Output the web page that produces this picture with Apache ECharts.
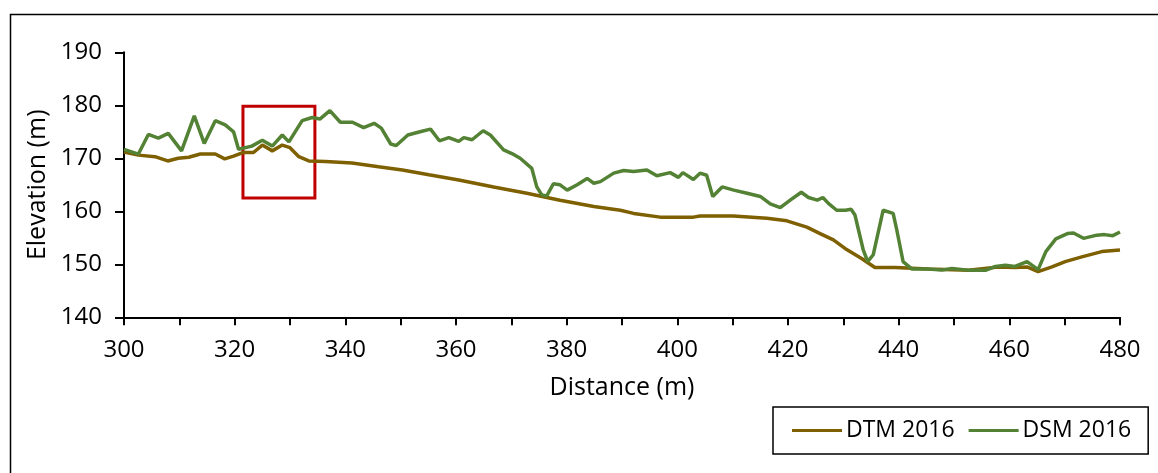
<!DOCTYPE html>
<html>
<head>
<meta charset="utf-8">
<script src="https://cdn.jsdelivr.net/npm/echarts@6/dist/echarts.min.js"></script>
<style>
  html, body { margin: 0; padding: 0; background: #fff; }
  #chart { width: 1158px; height: 473px; }
</style>
</head>
<body>
<div id="chart"></div>
<script>
// ---- Data ----
const seriesNames = ['DTM 2016', 'DSM 2016'];

const dtmX = [300, 302.6, 305.6, 307.9, 309.8, 311.7, 313.8, 316.5, 318.2, 319.8,
  321.6, 323.4, 325, 326.8, 328.6, 330, 331.6, 333.4, 336.4, 341.2,
  346, 350.3, 355.1, 360.5, 366.8, 372.8, 378.8, 384.9, 389.7, 392.1,
  396.9, 402.9, 404.1, 410.1, 416.2, 419.8, 423.4, 425.8, 428.2, 430.3,
  433.3, 435.7, 439.4, 445.4, 452.6, 458, 461, 463.2, 465.2, 467.7,
  470.1, 473.1, 476.7, 480];
const dtmY = [171.2, 170.6, 170.3, 169.5, 170, 170.2, 170.8, 170.8, 169.9, 170.4,
  171.1, 171.1, 172.5, 171.4, 172.5, 172, 170.3, 169.5, 169.4, 169.1,
  168.4, 167.8, 166.9, 165.9, 164.6, 163.4, 162.1, 160.9, 160.2, 159.6,
  158.9, 158.9, 159.1, 159.1, 158.7, 158.2, 157, 155.8, 154.6, 153,
  151.1, 149.4, 149.4, 149.1, 148.9, 149.5, 149.4, 149.5, 148.6, 149.5,
  150.5, 151.4, 152.4, 152.7];

const dsmX = [300, 302.6, 304.4, 306.2, 308, 310.4, 312.7, 314.5, 316.5, 318.3,
  319.8, 320.7, 323.1, 325, 326.8, 328.6, 329.8, 332.2, 334, 335.4,
  337.2, 339.1, 341.3, 343.3, 345.2, 346.5, 348.2, 349.2, 351.3, 353.5,
  355.4, 357, 358.7, 360.5, 361.4, 362.9, 364.9, 366.2, 368.6, 370.1,
  371.6, 373.7, 374.6, 375.5, 376.4, 377.6, 378.8, 380.1, 381.9, 383.7,
  384.9, 386.1, 388.5, 390.3, 392.1, 394.5, 396.3, 398.7, 400.2, 401,
  402.9, 404.1, 405.3, 406.4, 408.1, 410.2, 412.6, 415, 416.8, 418.6,
  420.4, 422.4, 423.7, 425.3, 426.3, 427.3, 428.8, 430.4, 431.4, 432.1,
  433.6, 434.4, 435.4, 437.2, 439, 439.6, 440.8, 442.4, 445.4, 447.8,
  449.6, 452.6, 455.8, 457.5, 459.3, 461, 463.2, 465.2, 466.6, 468.4,
  470.5, 471.6, 473.4, 475.8, 477.2, 478.7, 480];
const dsmY = [171.7, 170.8, 174.5, 173.8, 174.7, 171.4, 178, 172.8, 177.1, 176.3,
  175, 171.7, 172.3, 173.4, 172.3, 174.4, 173.1, 177.1, 177.7, 177.4,
  179, 176.8, 176.8, 175.8, 176.6, 175.7, 172.7, 172.4, 174.4, 175,
  175.5, 173.3, 173.9, 173.2, 173.9, 173.5, 175.2, 174.4, 171.6, 170.9,
  170, 168.1, 164.6, 163.1, 162.9, 165.2, 165, 164, 165, 166.2,
  165.3, 165.6, 167.2, 167.7, 167.5, 167.8, 166.7, 167.3, 166.4, 167.3,
  166, 167.2, 166.8, 162.8, 164.6, 164, 163.4, 162.8, 161.4, 160.7,
  162.1, 163.6, 162.6, 162.1, 162.6, 161.5, 160.2, 160.2, 160.4, 159.3,
  152.7, 150.5, 151.8, 160.2, 159.6, 156.8, 150.5, 149.1, 149.1, 148.9,
  149.2, 148.9, 148.9, 149.6, 149.8, 149.6, 150.5, 149, 152.4, 154.8,
  155.8, 155.9, 154.9, 155.5, 155.6, 155.4, 156.1];

// highlighted box: [xMin, xMax, yMin, yMax] in data units
const highlightBox = [321.5, 334.5, 162.5, 179.8];

const xTicks = { min: 300, max: 480, interval: 10, labelEvery: 20 };
const yTicks = { min: 140, max: 190, interval: 10 };

// ---- Chart ----
const zip = (xs, ys) => xs.map((x, i) => [x, ys[i]]);
const FONT = 'Open Sans';
const chart = echarts.init(document.getElementById('chart'), null, { renderer: 'canvas' });

chart.setOption({
  animation: false,
  backgroundColor: '#fff',
  textStyle: { fontFamily: FONT, color: '#000' },
  grid: { left: 124, right: 38, top: 52.3, bottom: 155.7, containLabel: false },
  graphic: [{
    type: 'rect',
    shape: { x: 10.5, y: 14.5, width: 1200, height: 500 },
    style: { fill: 'none', stroke: '#000', lineWidth: 1.5 },
    silent: true, z: 0
  }],
  legend: {
    left: 773, top: 407,
    data: seriesNames,
    icon: 'rect',
    itemWidth: 50, itemHeight: 3,
    itemGap: 14,
    padding: [12, 17, 12, 19],
    borderColor: '#000', borderWidth: 1.5,
    backgroundColor: '#fff',
    textStyle: { fontFamily: FONT, fontSize: 23, color: '#000', padding: [0, 0, 0, -1] }
  },
  xAxis: {
    type: 'value',
    min: xTicks.min, max: xTicks.max, interval: xTicks.interval,
    name: 'Distance (m)', nameLocation: 'middle', nameGap: 58,
    nameTextStyle: { fontFamily: FONT, fontSize: 25, color: '#000' },
    axisLine: { show: true, onZero: false, lineStyle: { color: '#000', width: 2 } },
    axisTick: { show: true, inside: false, length: 8, lineStyle: { color: '#000', width: 2 } },
    axisLabel: {
      margin: 21, fontFamily: FONT, fontSize: 24, color: '#000',
      formatter: v => (v % xTicks.labelEvery === 0 ? String(v) : '')
    },
    splitLine: { show: false }
  },
  yAxis: {
    type: 'value',
    min: yTicks.min, max: yTicks.max, interval: yTicks.interval,
    name: 'Elevation (m)', nameLocation: 'middle', nameGap: 74,
    nameTextStyle: { fontFamily: FONT, fontSize: 25, color: '#000' },
    axisLine: { show: true, lineStyle: { color: '#000', width: 2 } },
    axisTick: { show: true, inside: false, length: 9, lineStyle: { color: '#000', width: 2 } },
    axisLabel: { margin: 22, fontFamily: FONT, fontSize: 24, color: '#000' },
    splitLine: { show: false }
  },
  series: [
    {
      name: seriesNames[0], type: 'line',
      data: zip(dtmX, dtmY),
      showSymbol: false, symbol: 'none',
      lineStyle: { color: '#7f6000', width: 3.5 },
      itemStyle: { color: '#7f6000' },
      z: 2
    },
    {
      name: seriesNames[1], type: 'line',
      data: zip(dsmX, dsmY),
      showSymbol: false, symbol: 'none',
      lineStyle: { color: '#548235', width: 3.5 },
      itemStyle: { color: '#548235' },
      z: 3,
      markArea: {
        silent: true,
        itemStyle: { color: 'rgba(0,0,0,0)', borderColor: '#c00000', borderWidth: 3 },
        data: [[
          { xAxis: highlightBox[0], yAxis: highlightBox[3] },
          { xAxis: highlightBox[1], yAxis: highlightBox[2] }
        ]]
      }
    }
  ]
});
</script>
</body>
</html>
